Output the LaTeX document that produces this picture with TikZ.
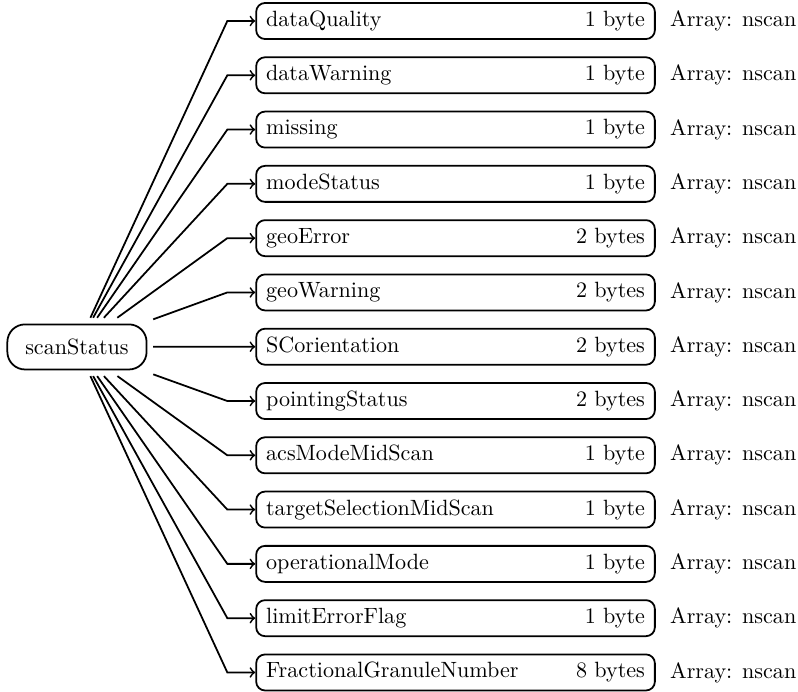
\documentclass[tikz,border=0pt]{standalone}
\usepackage{tikz}
\usetikzlibrary{positioning}

\tikzset{
    root/.style={draw,thick,rounded corners=8pt,minimum width=63pt,minimum height=20.4pt,outer sep=3pt},
    field/.style={draw,thick,rounded corners=4pt,text width=6.34cm-9pt,minimum height=16.3pt,inner xsep=4.5pt,align=left},
    link/.style={thick,->}
}

\begin{document}
\begin{tikzpicture}
    \useasboundingbox (0,0) rectangle (12.69,-11.0);

    \node[root] (scan) at (1.224,-5.517) {scanStatus};

    % fields of scanStatus
    \foreach \name/\size [count=\i] in {dataQuality/1 byte, dataWarning/1 byte, missing/1 byte,
        modeStatus/1 byte, geoError/2 bytes, geoWarning/2 bytes, SCorientation/2 bytes,
        pointingStatus/2 bytes, acsModeMidScan/1 byte, targetSelectionMidScan/1 byte,
        operationalMode/1 byte, limitErrorFlag/1 byte, FractionalGranuleNumber/8 bytes} {
        \node[field,anchor=west] (f\i) at (4.06,{-0.334-0.8633*(\i-1)}) {\name\hfill\size};
        \node[right=3pt of f\i] (a\i) {Array: nscan};
        \coordinate (b\i) at ([xshift=-0.445cm]f\i.west);
        \draw[link] (scan) -- (b\i) -- (f\i.west);
    }
\end{tikzpicture}
\end{document}
